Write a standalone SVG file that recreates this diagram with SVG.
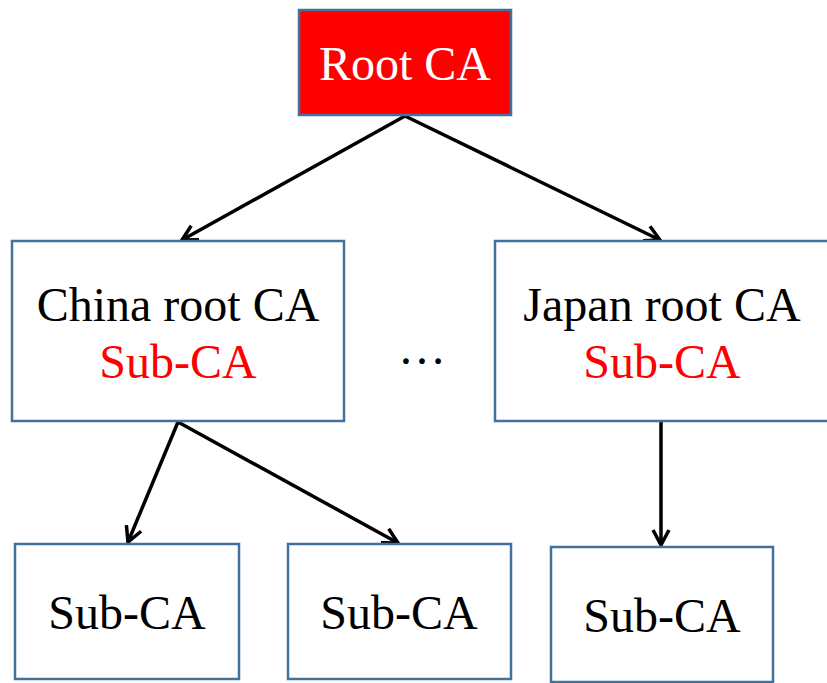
<svg xmlns="http://www.w3.org/2000/svg" width="827" height="683" viewBox="0 0 827 683">
  <style>
    .box { fill: #ffffff; stroke: #41719c; stroke-width: 2.5; }
    .root { fill: #ff0000; }
    .label { font-family: "Liberation Serif", "Times New Roman", serif; font-size: 48px; text-anchor: middle; fill: #000000; }
    .white { fill: #ffffff; }
    .red { fill: #ff0000; }
    .conn { stroke: #000000; stroke-width: 3.5; fill: none; marker-end: url(#chevron); }
  </style>
  <defs>
    <marker id="chevron" viewBox="0 0 20 20" refX="18" refY="10" markerWidth="20" markerHeight="20" markerUnits="userSpaceOnUse" orient="auto">
      <path d="M3,2 L18,10 L3,18" fill="none" stroke="#000000" stroke-width="3.5" stroke-linejoin="miter"/>
    </marker>
  </defs>
  <rect width="827" height="683" fill="#ffffff"/>

  <g id="connectors">
    <line class="conn" x1="405" y1="116" x2="182" y2="240"/>
    <line class="conn" x1="405" y1="116" x2="660" y2="240"/>
    <line class="conn" x1="178" y1="422" x2="128" y2="542"/>
    <line class="conn" x1="178" y1="422" x2="398" y2="543"/>
    <line class="conn" x1="661" y1="422" x2="661" y2="545"/>
  </g>

  <g id="root-ca">
    <rect class="box root" x="299" y="10" width="212" height="105"/>
    <text class="label white" x="405" y="80">Root CA</text>
  </g>

  <g id="china-root-ca">
    <rect class="box" x="12" y="241" width="332" height="180"/>
    <text class="label" x="178" y="321">China root CA</text>
    <text class="label red" x="178" y="378">Sub-CA</text>
  </g>

  <g id="ellipsis">
    <text class="label" x="422" y="364">…</text>
  </g>

  <g id="japan-root-ca">
    <rect class="box" x="495" y="241" width="340" height="180"/>
    <text class="label" x="662" y="321">Japan root CA</text>
    <text class="label red" x="662" y="378">Sub-CA</text>
  </g>

  <g id="china-sub-ca-1">
    <rect class="box" x="15" y="544" width="224" height="135"/>
    <text class="label" x="127" y="629">Sub-CA</text>
  </g>

  <g id="china-sub-ca-2">
    <rect class="box" x="288" y="544" width="223" height="135"/>
    <text class="label" x="399" y="629">Sub-CA</text>
  </g>

  <g id="japan-sub-ca">
    <rect class="box" x="551" y="547" width="222" height="135"/>
    <text class="label" x="662" y="632">Sub-CA</text>
  </g>
</svg>
